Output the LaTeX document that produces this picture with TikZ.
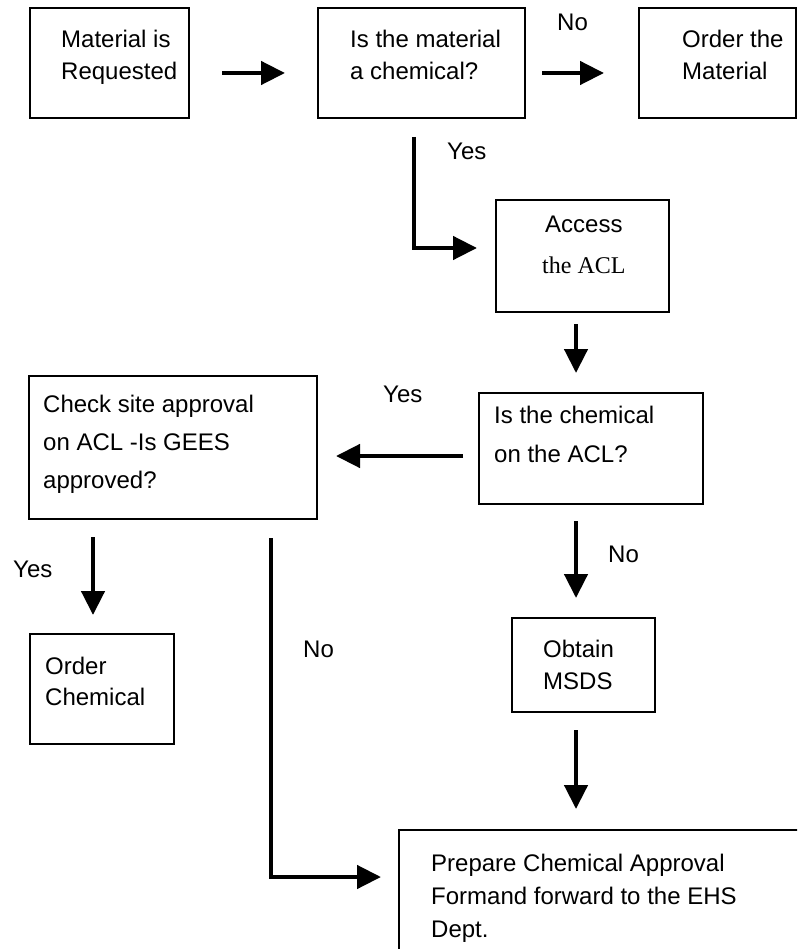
\documentclass[tikz,border=0pt]{standalone}
\usepackage{fontspec}
\setmainfont{Liberation Sans}
\newfontfamily\timesfont{Liberation Serif}
\usetikzlibrary{arrows.meta}

\begin{document}
\begin{tikzpicture}[x=1pt,y=-1pt,
  box/.style={draw, line width=2pt, inner sep=0pt, anchor=north west},
  txt/.style={anchor=base west, inner sep=0pt, font=\fontsize{24}{28}\selectfont},
  flow/.style={line width=4.5pt, -{Triangle[length=24pt,width=23pt]}},
]
\useasboundingbox (0,0) rectangle (797,949);
\clip (0,0) rectangle (797,949);

% process boxes
\node[box, minimum width=159pt, minimum height=110pt] (b1) at (29,7) {};
\node[box, minimum width=207pt, minimum height=110pt] (b2) at (317,7) {};
\node[box, minimum width=157pt, minimum height=110pt] (b3) at (638,7) {};
\node[box, minimum width=173pt, minimum height=112pt] (b4) at (495,199) {};
\node[box, minimum width=224pt, minimum height=111pt] (b5) at (478,392) {};
\node[box, minimum width=288pt, minimum height=143pt] (b6) at (28,375) {};
\node[box, minimum width=144pt, minimum height=110pt] (b7) at (29,633) {};
\node[box, minimum width=143pt, minimum height=94pt] (b8) at (511,617) {};
\node[box, minimum width=420pt, minimum height=160pt] (b9) at (398,829) {};

% box texts
\node[txt] (b1l1) at (61,48) {Material is};
\node[txt] (b1l2) at (61,80) {Requested};
\node[txt] (b2l1) at (350,48) {Is the material};
\node[txt] (b2l2) at (350,80) {a chemical?};
\node[txt] (b3l1) at (682,48) {Order the};
\node[txt] (b3l2) at (682,80) {Material};
\node[txt] (b4l1) at (545,233) {Access};
\node[txt, font=\fontsize{24}{28}\timesfont] (b4l2) at (542,273) {the ACL};
\node[txt] (b5l1) at (494,423) {Is the chemical};
\node[txt] (b5l2) at (494,462) {on the ACL?};
\node[txt] (b6l1) at (43,412) {Check site approval};
\node[txt] (b6l2) at (43,450) {on ACL -Is GEES};
\node[txt] (b6l3) at (43,488) {approved?};
\node[txt] (b7l1) at (45,674) {Order};
\node[txt] (b7l2) at (45,705) {Chemical};
\node[txt] (b8l1) at (543,657) {Obtain};
\node[txt] (b8l2) at (543,689) {MSDS};
\node[txt] (b9l1) at (431,871) {Prepare Chemical Approval};
\node[txt] (b9l2) at (431,904) {Formand forward to the EHS};
\node[txt] (b9l3) at (431,937) {Dept.};

% decision labels
\node[txt] (no1)  at (557,31)  {No};
\node[txt] (yes1) at (447,160) {Yes};
\node[txt] (yes2) at (383,402) {Yes};
\node[txt] (yes3) at (13,577)  {Yes};
\node[txt] (no2)  at (303,657) {No};
\node[txt] (no3)  at (608,562) {No};

% connectors
\draw[flow] ([shift={(32,10)}]b1.east) -- ([shift={(-32,10)}]b2.west);
\draw[flow] ([shift={(16,10)}]b2.east) -- ([shift={(-34,10)}]b3.west);
\draw[flow] ([shift={(-7.5,18)}]b2.south) |- ([shift={(-18,-8)}]b4.west);
\draw[flow] ([shift={(-6.5,11)}]b4.south) -- ([shift={(-15,-19)}]b5.north);
\draw[flow] ([shift={(-15,7.5)}]b5.west) -- ([shift={(18,8.5)}]b6.east);
\draw[flow] ([shift={(-80,17)}]b6.south) -- ([shift={(-9,-18)}]b7.north);
\draw[flow] ([shift={(98,18)}]b6.south) |- ([shift={(-17,-33)}]b9.west);
\draw[flow] ([shift={(-15,16)}]b5.south) -- ([shift={(-7.5,-19)}]b8.north);
\draw[flow] ([shift={(-7.5,17)}]b8.south) -- ([shift={(-33,-20)}]b9.north);
\end{tikzpicture}
\end{document}
